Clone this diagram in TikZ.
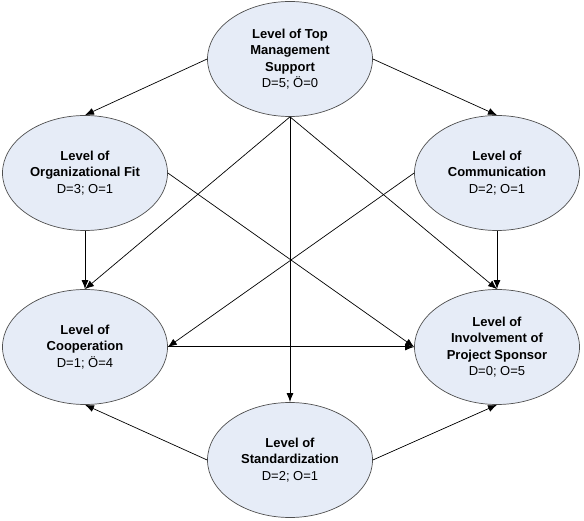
\documentclass[tikz,border=0pt]{standalone}
\usepackage{fontspec}
\setmainfont{Liberation Sans}
\usetikzlibrary{shapes.geometric,arrows.meta}
\definecolor{ellfill}{HTML}{E6ECF7}
\definecolor{ellline}{HTML}{505050}
\begin{document}
\begin{tikzpicture}[x=1pt,y=-1pt,
  ell/.style={ellipse,draw=ellline,line width=0.7pt,fill=ellfill,minimum width=165pt,minimum height=115pt,inner sep=0pt,align=center,font=\fontsize{13}{16.5}\selectfont},
  arr/.style={-{Latex[length=9pt,width=7pt]},line width=0.7pt,black},
  thickarr/.style={-{Latex[length=9pt,width=7pt]},line width=1pt,black}]
\useasboundingbox (0,0) rectangle (584,521);
\node[ell] (top) at (290,59) {\textbf{Level of Top}\\\textbf{Management}\\\textbf{Support}\\D=5; Ö=0};
\node[ell] (org) at (85,173) {\textbf{Level of}\\\textbf{Organizational Fit}\\D=3; O=1};
\node[ell] (com) at (497,173) {\textbf{Level of}\\\textbf{Communication}\\D=2; O=1};
\node[ell] (coop) at (85,347) {\textbf{Level of}\\\textbf{Cooperation}\\D=1; Ö=4};
\node[ell] (spon) at (497,347) {\textbf{Level of}\\\textbf{Involvement of}\\\textbf{Project Sponsor}\\D=0; O=5};
\node[ell] (std) at (290,460) {\textbf{Level of}\\\textbf{Standardization}\\D=2; O=1};
\draw[arr] (top.west) -- (org.north);
\draw[arr] (top.east) -- (com.north);
\draw[arr] (top.south) -- (coop.north);
\draw[thickarr] (top.south) -- (std.north);
\draw[arr] (top.south) -- (spon.north);
\draw[arr] (org.east) -- (spon.west);
\draw[arr] (com.west) -- (coop.east);
\draw[thickarr] (org.south) -- (coop.north);
\draw[thickarr] (com.south) -- (spon.north);
\draw[thickarr] (coop.east) -- (spon.west);
\draw[arr] (std.west) -- (coop.south);
\draw[arr] (std.east) -- (spon.south);
\end{tikzpicture}
\end{document}
